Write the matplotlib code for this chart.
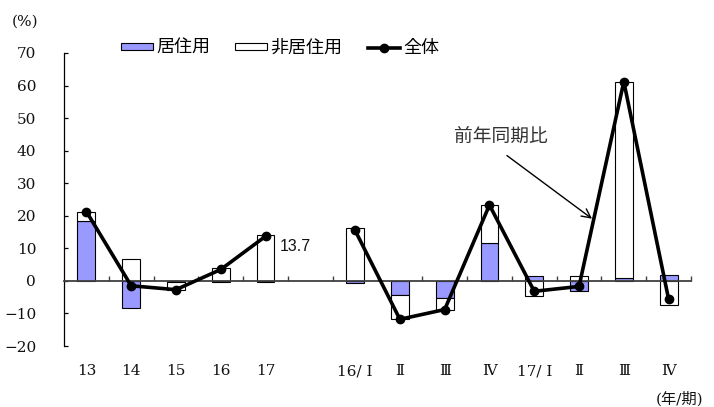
import numpy as np
import matplotlib
matplotlib.use("Agg")
import matplotlib.pyplot as plt
from matplotlib.ticker import FixedLocator

# 建築着工床面積の前年同期比と寄与度（%）
annual_labels = ["13", "14", "15", "16", "17"]
annual_res = [18.5, -8.2, -0.2, -0.4, -0.3]        # 居住用
annual_nonres = [2.8, 6.8, -2.5, 3.9, 14.0]        # 非居住用
annual_total = [21.3, -1.5, -2.7, 3.5, 13.7]       # 全体

quarter_labels = ["16/ Ⅰ", "Ⅱ", "Ⅲ", "Ⅳ", "17/ Ⅰ", "Ⅱ", "Ⅲ", "Ⅳ"]
quarter_res = [-0.7, -4.2, -5.4, 11.6, 1.5, -3.2, 0.8, 1.8]
quarter_nonres = [16.2, -7.6, -3.4, 11.7, -4.7, 1.5, 60.4, -7.4]
quarter_total = [15.5, -11.8, -8.8, 23.3, -3.2, -1.7, 61.2, -5.6]

yticks = [-20, -10, 0, 10, 20, 30, 40, 50, 60, 70]

SERIF = ["DejaVu Serif", "Noto Sans CJK JP"]
GOTHIC = ["Noto Sans CJK JP", "DejaVu Sans"]
BLUE = "#9999FF"

# 年次と四半期の間に空きを一つ入れる
labels = annual_labels + [""] + quarter_labels
x_annual = np.arange(len(annual_labels))
x_quarter = np.arange(len(quarter_labels)) + len(annual_labels) + 1
x_all = np.concatenate([x_annual, x_quarter])
res = np.array(annual_res + quarter_res)
nonres = np.array(annual_nonres + quarter_nonres)

# 非居住用は居住用と同符号なら積み上げ、異符号ならゼロから
nonres_bottom = np.where(np.sign(res) == np.sign(nonres), res, 0.0)

fig = plt.figure(figsize=(7.14, 4.07), dpi=100)
ax = fig.add_axes([64 / 714, 1 - 346 / 407, 627 / 714, 293 / 407])

width = 0.4
h_res = ax.bar(x_all, res, width=width, color=BLUE, edgecolor="black",
               linewidth=0.8, zorder=2, label="居住用")
h_non = ax.bar(x_all, nonres, width=width, bottom=nonres_bottom, color="white",
               edgecolor="black", linewidth=0.8, zorder=2, label="非居住用")

line_kw = dict(color="black", linewidth=2.6, marker="o", markersize=6, zorder=4)
h_tot, = ax.plot(x_annual, annual_total, label="全体", **line_kw)
ax.plot(x_quarter, quarter_total, **line_kw)

ax.set_xlim(-0.5, len(labels) - 0.5)
ax.set_ylim(-20, 70)

for side in ("top", "right"):
    ax.spines[side].set_visible(False)
ax.spines["left"].set_linewidth(0.9)
ax.spines["bottom"].set_position(("data", 0))
ax.spines["bottom"].set_color("#404040")
ax.spines["bottom"].set_linewidth(1.3)
ax.spines["bottom"].set_zorder(3)

ax.set_yticks(yticks)
ax.set_yticklabels([str(v).replace("-", "\u2212") for v in yticks])
ax.tick_params(axis="y", direction="in", length=3, width=0.9, pad=20)

ax.set_xticks(x_all)
ax.set_xticklabels([labels[i] for i in x_all])
ax.xaxis.set_minor_locator(FixedLocator(np.arange(0.5, len(labels), 1.0)))
ax.tick_params(axis="x", which="major", length=0, pad=60)
ax.tick_params(axis="x", which="minor", direction="in", length=3.8,
               width=1.0, color="#404040")

for t in ax.get_xticklabels() + ax.get_yticklabels():
    t.set_fontfamily(SERIF)
    t.set_fontsize(11)
    t.set_color("#111111")

# 2017年の値ラベル
ax.text(x_annual[-1] + 0.32, annual_total[-1] - 3.2, f"{annual_total[-1]:.1f}",
        fontsize=11.5, family=["Liberation Sans", "DejaVu Sans"],
        ha="left", va="center", color="#111111")

ax.annotate("", xy=(11.29, 19.1), xytext=(9.39, 38.5),
            arrowprops=dict(arrowstyle="->", color="black", lw=1.0,
                            shrinkA=0, shrinkB=0, mutation_scale=16))
ax.text(9.26, 44.3, "前年同期比", fontsize=13.5, family=GOTHIC,
        color="#333333", ha="center", va="center")

ax.legend([h_res, h_non, h_tot], ["居住用", "非居住用", "全体"],
          loc="upper left", bbox_to_anchor=(121 / 714, 1 - 39 / 407),
          bbox_transform=fig.transFigure, ncol=3, frameon=False,
          prop={"family": GOTHIC, "size": 13},
          handlelength=1.75, handleheight=0.3, handletextpad=0.2,
          columnspacing=1.4, borderpad=0, borderaxespad=0)

fig.text(12 / 714, 1 - 22 / 407, "(%)", family=SERIF, fontsize=11,
         ha="left", va="center", color="#111111")
fig.text(703 / 714, 1 - 399 / 407, "(年/期)", family=SERIF, fontsize=11,
         ha="right", va="center", color="#111111")

fig.savefig("out.png", dpi=100)
